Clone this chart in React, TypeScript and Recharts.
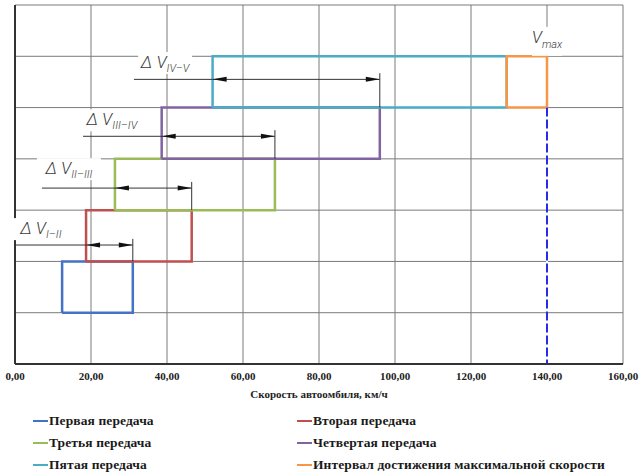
import {
  LineChart,
  Line,
  XAxis,
  YAxis,
  CartesianGrid,
  Legend,
  ReferenceLine,
  ReferenceDot,
} from "recharts";

// gears: speed range (km/h) and the row each one sits on
const gearNames = [
  "Первая передача",
  "Вторая передача",
  "Третья передача",
  "Четвертая передача",
  "Пятая передача",
  "Интервал достижения максимальной скорости",
];
const gearColors = ["#4472c4", "#c0504d", "#9bbb59", "#8064a2", "#4bacc6", "#f79646"];
const gearStart = [12.4, 18.7, 26.3, 38.6, 52, 129.4];
const gearEnd = [31, 46.5, 68.4, 96, 129.4, 140];
const gearRow = [1, 2, 3, 4, 5, 5];

const vMax = 140;

// shift intervals ΔV between neighbouring gears
const shiftNames = ["I–II", "II–III", "III–IV", "IV–V"];
const shiftLineY = [2.32, 3.43, 4.44, 5.55];
const shiftLineFrom = [0, 7.1, 17.9, 31.3];
const shiftLabelX = [6.8, 14.2, 25.5, 39.5];
const shiftLabelY = [2.63, 3.8, 4.75, 5.87];

const xTicks = [0, 20, 40, 60, 80, 100, 120, 140, 160];
const yTicks = [0, 1, 2, 3, 4, 5, 6, 7];

const rectPoints = (a: number, b: number, lo: number, hi: number) => [
  { x: a, y: lo },
  { x: b, y: lo },
  { x: b, y: hi },
  { x: a, y: hi },
  { x: a, y: lo },
];

const gears = gearNames.map((name, i) => ({
  name,
  color: gearColors[i],
  data: rectPoints(gearStart[i], gearEnd[i], gearRow[i], gearRow[i] + 1),
}));

const vMaxLine = [
  { x: vMax, y: 5 },
  { x: vMax, y: 0 },
];

const labelFont = "Roboto, 'Liberation Sans', sans-serif";
const serif = "'Liberation Serif', serif";

const ArrowSegment = (props: any) => {
  const { x1, y1, x2, y2 } = props;
  const len = 14;
  const hw = 2.5;
  return (
    <g>
      <line x1={x1} y1={y1} x2={x2} y2={y2} stroke="#333" strokeWidth={1} />
      <path d={`M${x1},${y1} L${x1 + len},${y1 - hw} L${x1 + len},${y1 + hw} Z`} fill="#111" />
      <path d={`M${x2},${y2} L${x2 - len},${y2 - hw} L${x2 - len},${y2 + hw} Z`} fill="#111" />
    </g>
  );
};

const deltaLabel = (sub: string) => (props: any) => {
  const { cx, cy } = props;
  const w = 34 + sub.length * 5;
  return (
    <g>
      <rect x={cx - w / 2} y={cy - 11} width={w} height={22} fill="#fff" />
      <text
        x={cx}
        y={cy + 5}
        textAnchor="middle"
        fontFamily={labelFont}
        fontStyle="italic"
        fontWeight={300}
        fill="#3a3a3a"
      >
        <tspan fontSize={17}>Δ V</tspan>
        <tspan fontSize={11} dy={4}>
          {sub}
        </tspan>
      </text>
    </g>
  );
};

const vMaxLabel = (props: any) => {
  const { cx, cy } = props;
  return (
    <g>
      <rect x={cx - 15} y={cy - 12} width={30} height={29} fill="#fff" />
      <text
        x={cx}
        y={cy + 4}
        textAnchor="middle"
        fontFamily={labelFont}
        fontStyle="italic"
        fontWeight={300}
        fill="#3a3a3a"
      >
        <tspan fontSize={17}>V</tspan>
        <tspan fontSize={11} dy={5}>
          max
        </tspan>
      </text>
    </g>
  );
};

const LegendBox = (props: any) => {
  const items = (props.payload || [])
    .filter((p: any) => p.type !== "none" && gearNames.includes(p.value))
    .sort((a: any, b: any) => gearNames.indexOf(a.value) - gearNames.indexOf(b.value));
  return (
    <div
      style={{
        display: "grid",
        gridTemplateColumns: "264px 330px",
        paddingLeft: 33,
        fontFamily: serif,
        fontWeight: "bold",
        fontSize: 13.5,
        letterSpacing: 0.1,
        color: "#1a1a1a",
      }}
    >
      {items.map((p: any) => (
        <div key={p.value} style={{ display: "flex", alignItems: "center", height: 22 }}>
          <span style={{ width: 15, height: 2.5, background: p.color, marginRight: 1 }} />
          <span>{p.value}</span>
        </div>
      ))}
    </div>
  );
};

const fmt = (v: number) => v.toFixed(2).replace(".", ",");
const noTick = () => <g />;

export default function App() {
  return (
    <div style={{ position: "absolute", top: 0, left: 0, width: 642, height: 475, background: "#fff" }}>
      <LineChart width={642} height={475} margin={{ top: 5, right: 19, left: 14, bottom: 0 }}>
        <CartesianGrid stroke="#7a7a7a" strokeWidth={1} />
        <XAxis
          dataKey="x"
          type="number"
          domain={[0, 160]}
          ticks={xTicks}
          tickFormatter={fmt}
          tickLine={false}
          axisLine={{ stroke: "#333", strokeWidth: 2 }}
          height={47}
          tick={{ fill: "#222", fontSize: 11, fontFamily: serif, fontWeight: "bold" }}
          label={{
            value: "Скорость автоомбиля, км/ч",
            position: "insideBottom",
            offset: 13,
            fill: "#222",
            fontSize: 11,
            fontFamily: serif,
            fontWeight: "bold",
          }}
        />
        <YAxis
          dataKey="y"
          type="number"
          domain={[0, 7]}
          ticks={yTicks}
          interval={0}
          tick={noTick}
          tickLine={false}
          width={1}
          axisLine={{ stroke: "#333", strokeWidth: 2 }}
        />
        <Legend
          verticalAlign="bottom"
          height={64}
          wrapperStyle={{ left: 0, top: 410, width: 642 }}
          content={<LegendBox />}
        />

        {gears.map((g) => (
          <Line
            key={g.name}
            data={g.data}
            dataKey="y"
            name={g.name}
            type="linear"
            stroke={g.color}
            strokeWidth={2.5}
            dot={false}
            activeDot={false}
            isAnimationActive={false}
          />
        ))}
        <Line
          data={vMaxLine}
          dataKey="y"
          name="vmax-under"
          type="linear"
          stroke="#fff"
          strokeWidth={2}
          dot={false}
          activeDot={false}
          legendType="none"
          isAnimationActive={false}
        />
        <Line
          data={vMaxLine}
          dataKey="y"
          name="vmax"
          type="linear"
          stroke="#2a2aee"
          strokeWidth={2}
          strokeDasharray="9 3"
          dot={false}
          activeDot={false}
          legendType="none"
          isAnimationActive={false}
        />

        {shiftNames.map((s, i) => (
          <ReferenceLine
            key={`lead-${s}`}
            segment={[
              { x: shiftLineFrom[i], y: shiftLineY[i] },
              { x: gearStart[i + 1], y: shiftLineY[i] },
            ]}
            stroke="#333"
            strokeWidth={1}
          />
        ))}
        {shiftNames.map((s, i) => (
          <ReferenceLine
            key={`arrow-${s}`}
            segment={[
              { x: gearStart[i + 1], y: shiftLineY[i] },
              { x: gearEnd[i], y: shiftLineY[i] },
            ]}
            shape={ArrowSegment}
          />
        ))}
        {shiftNames.map((s, i) => (
          <ReferenceLine
            key={`ext-${s}`}
            segment={[
              { x: gearEnd[i], y: shiftLineY[i] + 0.12 },
              { x: gearEnd[i], y: gearRow[i] + 1 },
            ]}
            stroke="#333"
            strokeWidth={1}
          />
        ))}
        {shiftNames.map((s, i) => (
          <ReferenceDot
            key={`label-${s}`}
            x={shiftLabelX[i]}
            y={shiftLabelY[i]}
            r={0}
            shape={deltaLabel(s)}
          />
        ))}
        <ReferenceDot x={vMax} y={6.34} r={0} shape={vMaxLabel} />
      </LineChart>
    </div>
  );
}
